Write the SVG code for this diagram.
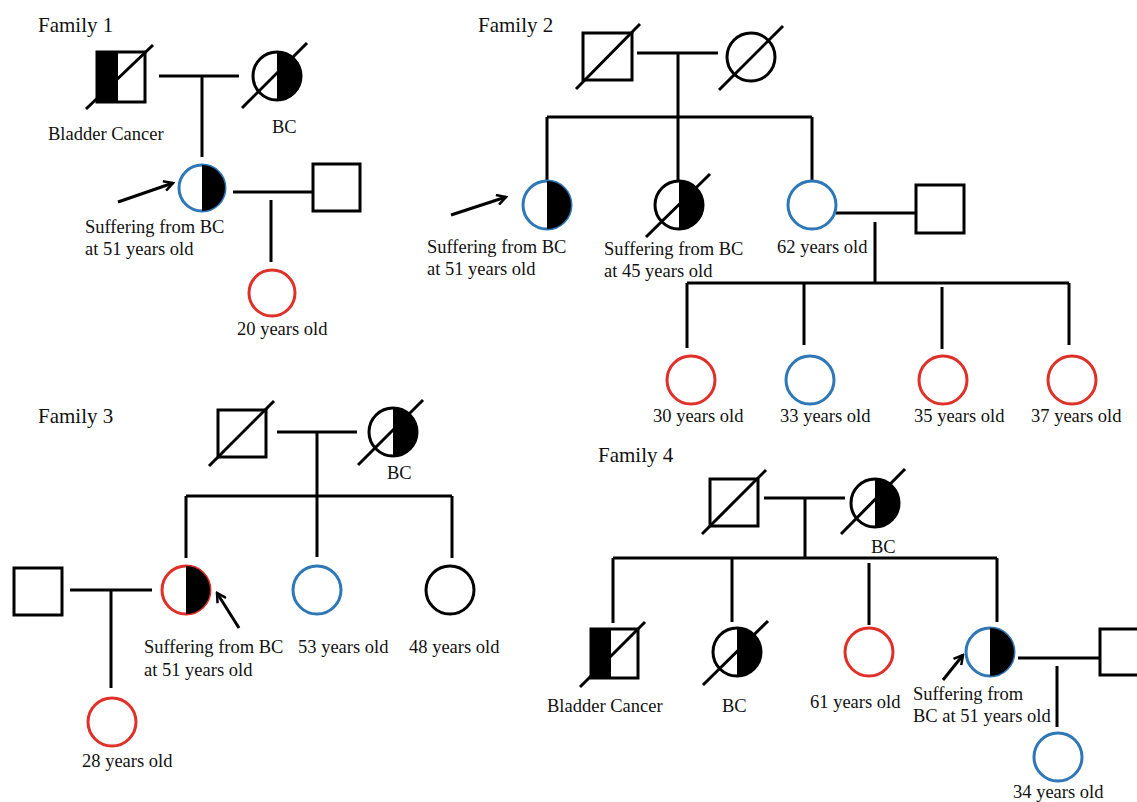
<svg xmlns="http://www.w3.org/2000/svg" width="1137" height="802" viewBox="0 0 1137 802">
<defs>
<style>
text{font-family:"Liberation Serif","Times New Roman",serif;font-size:18.5px;fill:#111}
.title{font-size:21px}
.ln{stroke:#000;stroke-width:3;fill:none}
.sq{stroke:#000;stroke-width:3;fill:#fff}
.ck{stroke:#000;stroke-width:3;fill:#fff}
.cb{stroke:#2f78b7;stroke-width:3;fill:#fff}
.cr{stroke:#e0302a;stroke-width:3;fill:#fff}
.blk{fill:#000}
.dx{stroke:#000;stroke-width:3}
</style>
<marker id="ah" viewBox="0 0 12 12" refX="10" refY="6" markerWidth="12" markerHeight="12" markerUnits="userSpaceOnUse" orient="auto">
<path d="M1,1 L10,6 L1,11" fill="none" stroke="#000" stroke-width="2.5"/>
</marker>
</defs>
<rect width="1137" height="802" fill="#fff"/>

<g id="connectors">
<!-- Family 1 -->
<path class="ln" d="M159,76 H239 M202,76 V157 M233,192 H313 M271,200 V262"/>
<!-- Family 2 -->
<path class="ln" d="M637,53 H718 M678,53 V180 M547,117 H812 M547,117 V180 M812,117 V180 M836,213 H916 M875,222 V283 M687,283 H1069 M687,283 V348 M804,283 V345 M942,287 V349 M1069,283 V345"/>
<!-- Family 3 -->
<path class="ln" d="M277,432 H357 M317,432 V557 M186,496 H452 M186,496 V558 M452,496 V558 M70,590 H152 M111,590 V688"/>
<!-- Family 4 -->
<path class="ln" d="M764,498 H845 M805,498 V558 M613,558 H997 M613,558 V623 M732,558 V622 M869,563 V625 M997,558 V622 M1018,658 H1100 M1057,666 V727"/>
<!-- arrows -->
<line class="dx" x1="118" y1="202" x2="173" y2="183" stroke-width="3" marker-end="url(#ah)"/>
<line class="dx" x1="451" y1="215" x2="506" y2="197" marker-end="url(#ah)"/>
<line class="dx" x1="239" y1="628" x2="217" y2="593" marker-end="url(#ah)"/>
<line class="dx" x1="943" y1="680" x2="963" y2="655" marker-end="url(#ah)"/>
</g>

<text class="title" x="38" y="32">Family 1</text>
<text class="title" x="478" y="32">Family 2</text>
<text class="title" x="38" y="423">Family 3</text>
<text class="title" x="598" y="462">Family 4</text>

<!-- Family 1 -->
<g id="f1-father">
<rect class="sq" x="97" y="52" width="48" height="50"/>
<rect class="blk" x="97" y="52" width="21" height="50"/>
<line class="dx" x1="86" y1="109" x2="153" y2="45"/>
<text x="48" y="140">Bladder Cancer</text>
</g>
<g id="f1-mother">
<circle class="ck" cx="277" cy="76" r="24"/>
<path class="blk" d="M277,52 A24,24 0 0 1 277,100 Z"/>
<line class="dx" x1="242" y1="108" x2="307" y2="43"/>
<text x="272" y="133">BC</text>
</g>
<g id="f1-proband">
<circle class="cb" cx="202" cy="188" r="23"/>
<path class="blk" d="M202,165 A23,23 0 0 1 202,211 Z"/>
<text x="85" y="233">Suffering from BC</text>
<text x="85" y="255">at 51 years old</text>
</g>
<g id="f1-husband">
<rect class="sq" x="313" y="164" width="47" height="47"/>
</g>
<g id="f1-child">
<circle class="cr" cx="272" cy="293" r="23"/>
<text x="237" y="335">20 years old</text>
</g>

<!-- Family 2 -->
<g id="f2-father">
<rect class="sq" x="583" y="33" width="49" height="47"/>
<line class="dx" x1="576" y1="89" x2="640" y2="24"/>
</g>
<g id="f2-mother">
<circle class="ck" cx="751" cy="57" r="24"/>
<line class="dx" x1="719" y1="90" x2="783" y2="26"/>
</g>
<g id="f2-proband">
<circle class="cb" cx="547" cy="205" r="24"/>
<path class="blk" d="M547,181 A24,24 0 0 1 547,229 Z"/>
<text x="427" y="253">Suffering from BC</text>
<text x="427" y="275">at 51 years old</text>
</g>
<g id="f2-sister1">
<circle class="ck" cx="679" cy="205" r="24"/>
<path class="blk" d="M679,181 A24,24 0 0 1 679,229 Z"/>
<line class="dx" x1="646" y1="237" x2="710" y2="174"/>
<text x="604" y="255">Suffering from BC</text>
<text x="604" y="277">at 45 years old</text>
</g>
<g id="f2-sister2">
<circle class="cb" cx="812" cy="205" r="24"/>
<text x="777" y="253">62 years old</text>
</g>
<g id="f2-husband">
<rect class="sq" x="916" y="185" width="48" height="48"/>
</g>
<g id="f2-child1">
<circle class="cr" cx="691" cy="380" r="24"/>
<text x="653" y="422">30 years old</text>
</g>
<g id="f2-child2">
<circle class="cb" cx="810" cy="380" r="24"/>
<text x="780" y="422">33 years old</text>
</g>
<g id="f2-child3">
<circle class="cr" cx="943" cy="380" r="24"/>
<text x="914" y="422">35 years old</text>
</g>
<g id="f2-child4">
<circle class="cr" cx="1072" cy="380" r="24"/>
<text x="1031" y="422">37 years old</text>
</g>

<!-- Family 3 -->
<g id="f3-father">
<rect class="sq" x="218" y="410" width="48" height="47"/>
<line class="dx" x1="209" y1="466" x2="274" y2="401"/>
</g>
<g id="f3-mother">
<circle class="ck" cx="393" cy="432" r="24"/>
<path class="blk" d="M393,408 A24,24 0 0 1 393,456 Z"/>
<line class="dx" x1="358" y1="465" x2="423" y2="400"/>
<text x="387" y="479">BC</text>
</g>
<g id="f3-proband">
<circle class="cr" cx="186" cy="590" r="24"/>
<path class="blk" d="M186,566 A24,24 0 0 1 186,614 Z"/>
<text x="144" y="653">Suffering from BC</text>
<text x="144" y="676">at 51 years old</text>
</g>
<g id="f3-sister1">
<circle class="cb" cx="317" cy="590" r="24"/>
<text x="298" y="653">53 years old</text>
</g>
<g id="f3-sister2">
<circle class="ck" cx="450" cy="590" r="24"/>
<text x="409" y="653">48 years old</text>
</g>
<g id="f3-husband">
<rect class="sq" x="14" y="568" width="48" height="47"/>
</g>
<g id="f3-child">
<circle class="cr" cx="112" cy="722" r="24"/>
<text x="82" y="767">28 years old</text>
</g>

<!-- Family 4 -->
<g id="f4-father">
<rect class="sq" x="710" y="479" width="48" height="47"/>
<line class="dx" x1="702" y1="534" x2="766" y2="470"/>
</g>
<g id="f4-mother">
<circle class="ck" cx="875" cy="503" r="24"/>
<path class="blk" d="M875,479 A24,24 0 0 1 875,527 Z"/>
<line class="dx" x1="841" y1="534" x2="905" y2="469"/>
<text x="871" y="553">BC</text>
</g>
<g id="f4-brother">
<rect class="sq" x="591" y="629" width="47" height="49"/>
<rect class="blk" x="591" y="629" width="20" height="49"/>
<line class="dx" x1="580" y1="687" x2="645" y2="622"/>
<text x="547" y="712">Bladder Cancer</text>
</g>
<g id="f4-sister1">
<circle class="ck" cx="737" cy="652" r="24"/>
<path class="blk" d="M737,628 A24,24 0 0 1 737,676 Z"/>
<line class="dx" x1="703" y1="685" x2="768" y2="621"/>
<text x="722" y="712">BC</text>
</g>
<g id="f4-sister2">
<circle class="cr" cx="869" cy="652" r="24"/>
<text x="810" y="708">61 years old</text>
</g>
<g id="f4-proband">
<circle class="cb" cx="990" cy="652" r="24"/>
<path class="blk" d="M990,628 A24,24 0 0 1 990,676 Z"/>
<text x="913" y="700">Suffering from</text>
<text x="913" y="722">BC at 51 years old</text>
</g>
<g id="f4-husband">
<rect class="sq" x="1100" y="629" width="48" height="46"/>
</g>
<g id="f4-child">
<circle class="cb" cx="1058" cy="757" r="24"/>
<text x="1013" y="798">34 years old</text>
</g>
</svg>
